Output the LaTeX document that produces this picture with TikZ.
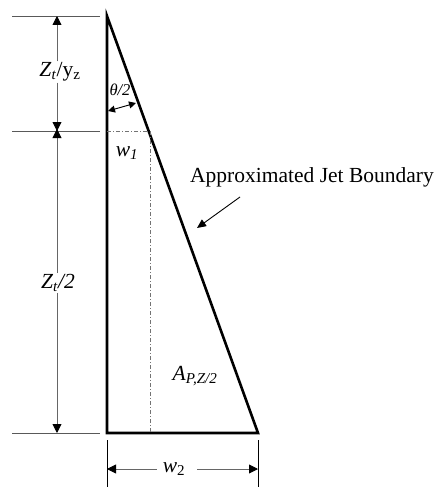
\documentclass[tikz,border=0pt]{standalone}
\usepackage{fontspec}
\setmainfont{Liberation Serif}
\usetikzlibrary{arrows.meta}
\begin{document}
\begin{tikzpicture}[x=1pt,y=-1pt,
  dimline/.style={draw=black!60, line width=0.9pt},
  dimarrow/.style={dimline, -{Triangle[length=9pt,width=9pt,color=black]}},
  extline/.style={draw=black!65, line width=0.8pt},
  jet/.style={draw=black, line width=2.6pt, line join=miter},
  dashdot/.style={draw=black!55, line width=0.8pt, dash pattern=on 4pt off 2pt on 1pt off 2pt},
  lbl/.style={font=\fontsize{21.5}{24}\selectfont, inner sep=1pt, fill=white},
  small/.style={font=\fontsize{16.5}{18}\selectfont, inner sep=0pt}]
\useasboundingbox (0,0) rectangle (437,487);
% triangle
\coordinate (A) at (107,16);
\coordinate (B) at (107,433);
\coordinate (C) at (258,433);
\draw[jet] (C) -- (B) -- (A) -- cycle;
% extension lines
\coordinate (e1a) at (12,16);  \coordinate (e1b) at (100,16);
\coordinate (e2a) at (12,131); \coordinate (e2b) at (100,131);
\coordinate (e3a) at (12,433); \coordinate (e3b) at (100,433);
\draw[extline] (e1a) -- (e1b);
\draw[extline] (e2a) -- (e2b);
\draw[extline] (e3a) -- (e3b);
% vertical dimensions
\node[lbl] (zy) at (60,72) {\textit{Z}\textsubscript{\textit{t}}/y\textsubscript{z}};
\coordinate (d1) at (57,16);
\coordinate (d2) at (57,131);
\coordinate (d3) at (57,433);
\draw[dimarrow] (zy.north -| d1) -- (d1);
\draw[dimarrow] (zy.south -| d1) -- (d2);
\node[lbl] (z2) at (58,283) {\textit{Z}\textsubscript{\textit{t}}\textit{/2}};
\draw[dimarrow] (z2.north -| d1) -- ([yshift=2pt]d2);
\draw[dimarrow] (z2.south -| d1) -- (d3);
% dash-dot lines
\coordinate (m1) at (149,131);
\coordinate (m2) at (150,131);
\coordinate (m3) at (150,433);
\draw[dashdot] (B |- m1) -- (m1);
\draw[dashdot] (m2) -- (m3);
% theta/2
\node[small] (th) at (120,90) {\textit{θ/2}};
\coordinate (t1) at (108,111);
\coordinate (t2) at (136,103);
\draw[draw=black, line width=0.9pt, {Triangle[length=7pt,width=7pt]}-{Triangle[length=7pt,width=7pt]}] (t1) -- (t2);
% w1
\node[lbl, fill=none] (w1) at (127,153) {\textit{w}\textsubscript{\textit{1}}};
% jet boundary label
\node[lbl, fill=none] (jb) at (312,177) {Approximated Jet Boundary};
\coordinate (jbt) at (240,197);
\coordinate (jbh) at (197,228);
\draw[draw=black, line width=0.9pt, -{Triangle[length=9pt,width=8pt]}] (jbt) -- (jbh);
% area label
\node[lbl, fill=none] (ap) at (195,376) {\textit{A}\textsubscript{\textit{P,Z/2}}};
% bottom dimension
\coordinate (b1) at (107,440); \coordinate (b1e) at (107,487);
\coordinate (b2) at (258,440); \coordinate (b2e) at (258,487);
\draw[draw=black, line width=0.8pt] (b1) -- (b1e);
\draw[draw=black, line width=0.8pt] (b2) -- (b2e);
\node[lbl, inner sep=0pt] (w2) at (174,469) {\textit{w}\textsubscript{2}};
\draw[dimarrow] ([xshift=-6pt]w2.west) -- (b1 |- w2);
\draw[dimarrow] ([xshift=12pt]w2.east) -- (b2 |- w2);
\end{tikzpicture}
\end{document}
